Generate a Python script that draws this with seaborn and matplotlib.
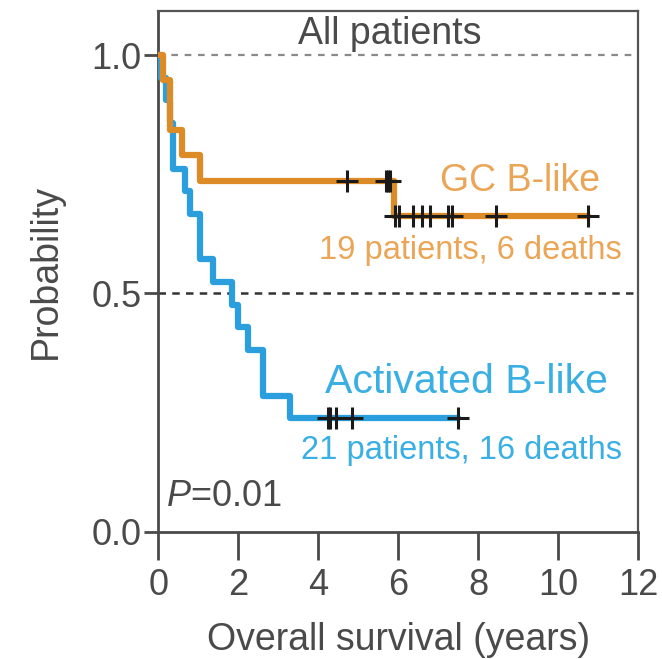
import numpy as np
import seaborn as sns
import matplotlib.pyplot as plt

# survival data (years), event 1 = death, 0 = censored
gc_time = [0.12, 0.3, 0.3, 0.6, 1.05, 4.72, 5.7, 5.75, 5.8, 5.9, 5.93,
           6.02, 6.38, 6.6, 6.8, 7.25, 7.35, 8.45, 10.75]
gc_event = [1, 1, 1, 1, 1, 0, 0, 0, 0, 1, 0, 0, 0, 0, 0, 0, 0, 0, 0]

act_time = [0.08, 0.2, 0.3, 0.38, 0.38, 0.68, 0.8, 1.05, 1.05, 1.37, 1.85,
            2.0, 2.25, 2.62, 2.62, 3.3, 4.25, 4.3, 4.45, 4.85, 7.5]
act_event = [1] * 16 + [0] * 5

x_ticks = [0, 2, 4, 6, 8, 10, 12]
y_ticks = [0.0, 0.5, 1.0]

orange = '#DD8B27'
blue = '#2B9EDD'
orange_txt = '#EBA556'
blue_txt = '#3AAFE3'
grey = '#4a4a4a'


def km_curve(times, events):
    t = np.asarray(times, dtype=float)
    e = np.asarray(events)
    xs, ys = [0.0], [1.0]
    s = 1.0
    for u in np.unique(t[e == 1]):
        n = (t >= u).sum()
        d = ((t == u) & (e == 1)).sum()
        s *= 1 - d / n
        xs.append(u)
        ys.append(s)
    xs.append(t.max())
    ys.append(s)
    # survival value at each censored time
    xs_a, ys_a = np.array(xs), np.array(ys)
    cens = t[e == 0]
    idx = np.searchsorted(xs_a[:-1], cens, side='right') - 1
    return xs_a, ys_a, cens, ys_a[idx]


sns.set_style('ticks')
plt.rcParams['font.family'] = ['Liberation Sans', 'DejaVu Sans']
plt.rcParams['mathtext.fontset'] = 'custom'
plt.rcParams['mathtext.it'] = 'Liberation Sans:italic'
plt.rcParams['mathtext.rm'] = 'Liberation Sans'

fig = plt.figure(figsize=(6.62, 6.59), dpi=100)
ax = fig.add_axes([0.239, 0.193, 0.725, 0.790])

ax.axhline(1.0, color='#8a8a8a', lw=1.6, ls=(0, (3, 3)), zorder=1)
ax.axhline(0.5, color='#333333', lw=1.8, ls=(0, (3, 2.5)), zorder=1)

for times, events, col in [(act_time, act_event, blue), (gc_time, gc_event, orange)]:
    xs, ys, cx, cy = km_curve(times, events)
    sns.lineplot(x=xs, y=ys, ax=ax, color=col, lw=4.5, drawstyle='steps-post',
                 estimator=None, sort=False, zorder=3)
    ax.plot(cx, cy, ls='none', marker='+', ms=16, mew=2.2, color='#1a1a1a', zorder=4)

ax.text(5.8, 1.045, 'All patients', ha='center', va='center', fontsize=27, color=grey)
ax.text(11.05, 0.735, 'GC B-like', ha='right', va='center', fontsize=27, color=orange_txt)
ax.text(11.6, 0.59, '19 patients, 6 deaths', ha='right', va='center', fontsize=23.5, color=orange_txt)
ax.text(11.25, 0.315, 'Activated B-like', ha='right', va='center', fontsize=29.5, color=blue_txt)
ax.text(11.6, 0.17, '21 patients, 16 deaths', ha='right', va='center', fontsize=23.5, color=blue_txt)
ax.text(0.2, 0.075, r'$\mathit{P}$=0.01', ha='left', va='center', fontsize=26, color=grey)

ax.set_xlim(0, 12)
ax.set_ylim(0, 1.092)
ax.set_xticks(x_ticks)
ax.set_yticks(y_ticks)
ax.set_yticklabels([f'{v:.1f}' for v in y_ticks])
ax.set_xlabel('Overall survival (years)', fontsize=27, color=grey, labelpad=14)
ax.set_ylabel('Probability', fontsize=27, color=grey, labelpad=20)
ax.tick_params(axis='both', labelsize=26, colors=grey, width=2, direction='out')
ax.tick_params(axis='x', length=20, pad=6)
ax.tick_params(axis='y', length=10, pad=2)
for side in ['left', 'bottom']:
    ax.spines[side].set_linewidth(2)
    ax.spines[side].set_color(grey)
for side in ['top', 'right']:
    ax.spines[side].set_linewidth(1.6)
    ax.spines[side].set_color('#555555')

fig.savefig('out.png', dpi=100)
